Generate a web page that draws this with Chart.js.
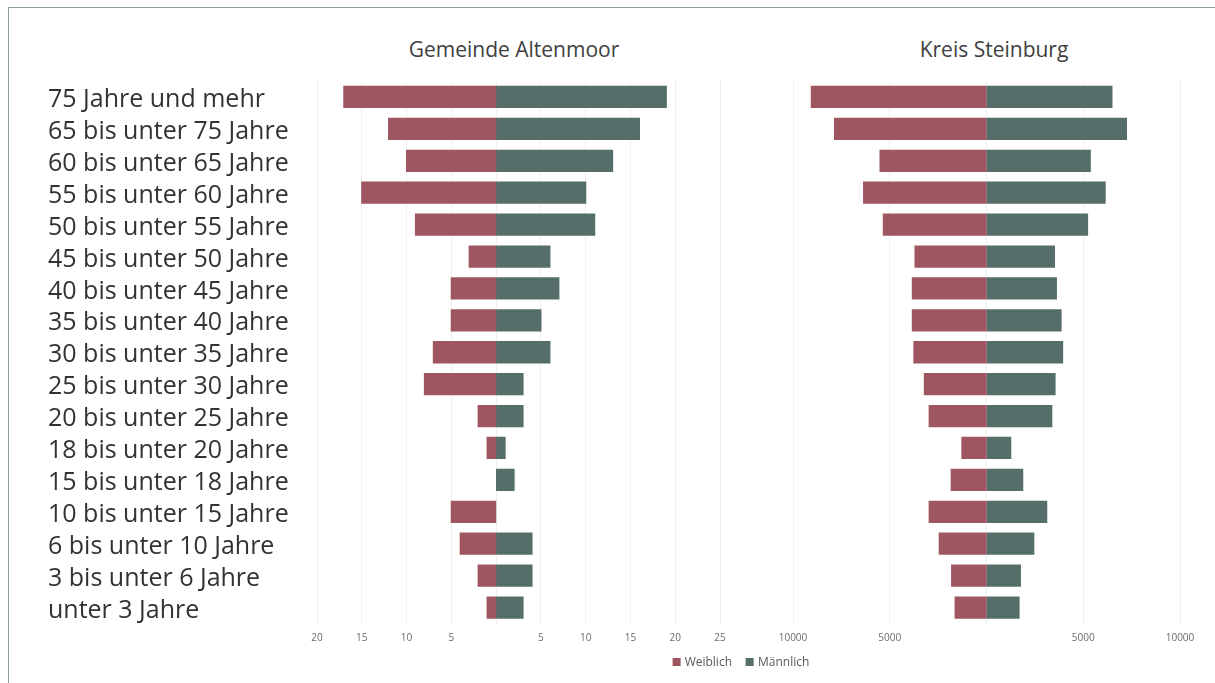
<!DOCTYPE html>
<html lang="de">
<head>
<meta charset="utf-8">
<title>Altersstruktur Gemeinde Altenmoor und Kreis Steinburg</title>
<script src="https://cdn.jsdelivr.net/npm/chart.js@4/dist/chart.umd.min.js"></script>
<style>
  html, body { margin: 0; padding: 0; background: #ffffff; }
  body { width: 1215px; height: 683px; position: relative; overflow: hidden; font-family: "Open Sans", sans-serif; }
  .frame { position: absolute; left: 8px; top: 7px; width: 1220px; height: 700px; border: 1px solid #8c9c9a; box-sizing: border-box; }
  .panel { position: absolute; top: 0; height: 683px; }
  .title { position: absolute; top: 35px; font-size: 21px; color: #404040; white-space: nowrap; transform: translateX(-50%); }
  .legend { position: absolute; top: 653px; left: 741px; transform: translateX(-50%); display: flex; gap: 14px; font-size: 12px; color: #595959; white-space: nowrap; }
  .legend span { display: flex; align-items: center; }
  .legend i { display: inline-block; width: 8px; height: 8px; margin-right: 4px; }
</style>
</head>
<body>
<div class="frame"></div>
<div class="title" style="left:514px">Gemeinde Altenmoor</div>
<div class="title" style="left:994px">Kreis Steinburg</div>
<div class="panel" style="left:0; width:745px"><canvas id="gemeinde" width="745" height="683"></canvas></div>
<div class="panel" style="left:745px; width:470px"><canvas id="kreis" width="470" height="683"></canvas></div>
<div class="legend" id="legend"></div>
<script>
// Altersgruppen, von oben nach unten
const categories = [
  "75 Jahre und mehr",
  "65 bis unter 75 Jahre",
  "60 bis unter 65 Jahre",
  "55 bis unter 60 Jahre",
  "50 bis unter 55 Jahre",
  "45 bis unter 50 Jahre",
  "40 bis unter 45 Jahre",
  "35 bis unter 40 Jahre",
  "30 bis unter 35 Jahre",
  "25 bis unter 30 Jahre",
  "20 bis unter 25 Jahre",
  "18 bis unter 20 Jahre",
  "15 bis unter 18 Jahre",
  "10 bis unter 15 Jahre",
  "6 bis unter 10 Jahre",
  "3 bis unter 6 Jahre",
  "unter 3 Jahre"
];

// Gemeinde Altenmoor (Personen)
const gemeindeWeiblich  = [17, 12, 10, 15, 9, 3, 5, 5, 7, 8, 2, 1, 0, 5, 4, 2, 1];
const gemeindeMaennlich = [19, 16, 13, 10, 11, 6, 7, 5, 6, 3, 3, 1, 2, 0, 4, 4, 3];

// Kreis Steinburg (Personen)
const kreisWeiblich  = [9050, 7850, 5500, 6350, 5330, 3690, 3830, 3830, 3750, 3210, 2960, 1270, 1820, 2960, 2440, 1800, 1620];
const kreisMaennlich = [6480, 7230, 5360, 6130, 5220, 3510, 3610, 3850, 3930, 3540, 3370, 1250, 1870, 3110, 2440, 1750, 1680];

// Achsenbereiche und Teilstriche
const gemeindeTicks = { min: -20, max: 25, step: 5 };
const kreisTicks = { min: -10000, max: 10000, step: 5000 };

const seriesNames = ["Weiblich", "Männlich"];
const colorWeiblich = "#9e5760";
const colorMaennlich = "#566e69";

const FONT = "'Open Sans', sans-serif";

// Leere Gruppen erhalten keinen Balken
const asBar = (v, sign) => (v === 0 ? null : sign * v);

function datasets(weiblich, maennlich) {
  const common = { borderWidth: 0, inflateAmount: 0.6, barPercentage: 0.66, categoryPercentage: 1.0 };
  return [
    Object.assign({ label: seriesNames[0], data: weiblich.map(v => asBar(v, -1)), backgroundColor: colorWeiblich }, common),
    Object.assign({ label: seriesNames[1], data: maennlich.map(v => asBar(v, 1)), backgroundColor: colorMaennlich }, common)
  ];
}

function xScale(range) {
  return {
    type: "linear",
    stacked: true,
    min: range.min,
    max: range.max,
    ticks: {
      stepSize: range.step,
      autoSkip: false,
      maxRotation: 0,
      padding: 9,
      color: "#6b6b6b",
      font: { family: FONT, size: 10 },
      callback: v => (v === 0 ? "" : String(Math.abs(v)))
    },
    grid: { color: "#efefef", lineWidth: 1, drawTicks: false },
    border: { display: false },
    afterFit: s => { s.height = 24; }
  };
}

function options(showLabels, padding) {
  const y = {
    type: "category",
    stacked: true,
    display: showLabels,
    offset: true,
    ticks: {
      autoSkip: false,
      crossAlign: "far",
      padding: 0,
      labelOffset: 3,
      color: "#333333",
      font: { family: FONT, size: 25 }
    },
    grid: { display: false },
    border: { display: false }
  };
  if (showLabels) {
    y.afterFit = s => { s.width = 269; };
  }
  return {
    indexAxis: "y",
    responsive: false,
    animation: false,
    layout: { padding },
    plugins: { legend: { display: false }, tooltip: { enabled: false }, title: { display: false } },
    scales: { x: null, y }
  };
}

const optGemeinde = options(true, { left: 48, right: 25, top: 81, bottom: 35.5 });
optGemeinde.scales.x = xScale(gemeindeTicks);
new Chart(document.getElementById("gemeinde"), {
  type: "bar",
  data: { labels: categories, datasets: datasets(gemeindeWeiblich, gemeindeMaennlich) },
  options: optGemeinde
});

const optKreis = options(false, { left: 48, right: 35, top: 81, bottom: 35.5 });
optKreis.scales.x = xScale(kreisTicks);
new Chart(document.getElementById("kreis"), {
  type: "bar",
  data: { labels: categories, datasets: datasets(kreisWeiblich, kreisMaennlich) },
  options: optKreis
});

// Gemeinsame Legende unter beiden Diagrammen
const legend = document.getElementById("legend");
[[seriesNames[0], colorWeiblich], [seriesNames[1], colorMaennlich]].forEach(([name, color]) => {
  const item = document.createElement("span");
  const box = document.createElement("i");
  box.style.background = color;
  item.appendChild(box);
  item.appendChild(document.createTextNode(name));
  legend.appendChild(item);
});
</script>
</body>
</html>
